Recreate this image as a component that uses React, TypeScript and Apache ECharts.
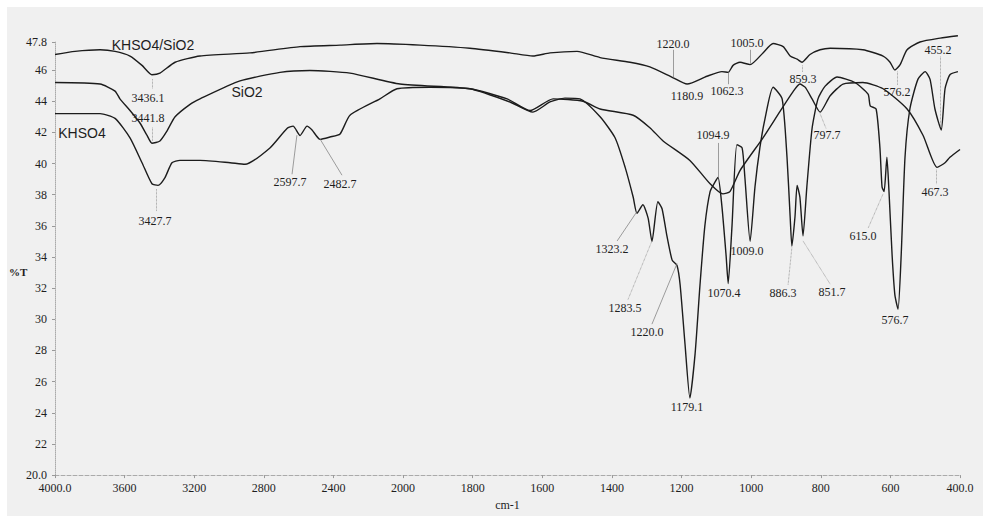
import React, { useEffect, useRef } from "react";
import * as echarts from "echarts";

// Wavenumber (cm-1) / %T readings
const KHSO4_SIO2: [number, number][] = [
  [4000, 47.0], [3885, 47.2], [3741, 47.3], [3655, 47.2], [3569, 46.9], [3500, 46.3],
  [3443, 45.7], [3397, 45.8], [3310, 46.5], [3167, 46.9], [2880, 47.1], [2592, 47.5],
  [2362, 47.6], [2150, 47.7], [1951, 47.6], [1808, 47.4], [1693, 47.1], [1627, 46.9],
  [1578, 47.1], [1500, 47.2], [1434, 46.8], [1348, 46.5], [1291, 46.2], [1224, 45.5],
  [1184, 45.1], [1127, 45.6], [1084, 45.9], [1066, 45.85], [1052, 46.3], [1032, 46.5],
  [1003, 46.35], [966, 47.1], [937, 47.7], [908, 47.5], [888, 46.9], [868, 46.7],
  [854, 46.5], [831, 47.0], [802, 47.3], [773, 47.4], [679, 47.3], [621, 46.9],
  [601, 46.5], [587, 46.0], [572, 46.35], [552, 47.3], [515, 47.8], [457, 48.05], [406, 48.2],
];

const SIO2: [number, number][] = [
  [4000, 45.2], [3741, 45.1], [3655, 44.65], [3627, 44.15], [3569, 43.4], [3512, 42.6],
  [3471, 41.8], [3443, 41.3], [3397, 41.45], [3356, 42.1], [3310, 43.0], [3224, 43.8],
  [3167, 44.15], [2937, 45.3], [2707, 45.85], [2535, 45.97], [2305, 45.8], [2018, 45.1],
  [1808, 44.8], [1701, 44.15], [1635, 43.4], [1569, 44.15], [1483, 44.0], [1434, 43.5],
  [1339, 43.1], [1291, 42.3], [1253, 41.45], [1176, 40.2], [1118, 38.7], [1081, 38.05],
  [1061, 38.2], [1032, 39.55], [966, 41.65], [917, 43.35], [880, 44.6], [860, 45.1],
  [845, 44.9], [825, 44.15], [802, 43.3], [773, 44.35], [736, 45.1], [679, 45.2],
  [621, 44.8], [552, 43.5], [506, 41.8], [466, 39.75], [443, 40.05], [429, 40.4], [400, 40.9],
];

const KHSO4: [number, number][] = [
  [4000, 43.2], [3741, 43.2], [3655, 42.9], [3569, 41.65], [3500, 40.05], [3443, 38.7],
  [3408, 38.6], [3368, 39.1], [3328, 40.05], [3282, 40.2], [3167, 40.2], [2994, 40.05],
  [2908, 39.95], [2765, 41.0], [2667, 42.25], [2632, 42.4], [2592, 41.8], [2552, 42.4],
  [2523, 42.15], [2477, 41.55], [2420, 41.7], [2362, 41.9], [2305, 43.1], [2133, 44.15],
  [2035, 44.8], [1923, 44.9], [1808, 44.8], [1693, 43.95], [1627, 43.3], [1578, 43.95],
  [1535, 44.2], [1492, 44.15], [1434, 43.0], [1391, 41.65], [1362, 39.75], [1339, 37.85],
  [1328, 36.8], [1311, 37.35], [1296, 36.5], [1285, 35.0], [1268, 37.55], [1256, 37.1],
  [1242, 35.35], [1227, 33.8], [1213, 33.45], [1204, 32.2], [1190, 28.4], [1176, 24.95],
  [1161, 27.8], [1147, 32.2], [1133, 36.0], [1118, 38.2], [1104, 38.8], [1095, 39.1],
  [1084, 37.25], [1072, 34.1], [1066, 32.3], [1055, 36.0], [1041, 41.2], [1026, 41.0],
  [1018, 39.1], [1003, 35.0], [989, 38.5], [975, 41.0], [960, 42.9], [937, 44.9],
  [911, 44.15], [897, 40.4], [888, 36.6], [883, 34.7], [874, 36.6], [868, 38.6],
  [860, 37.85], [851, 35.35], [840, 38.5], [825, 42.25], [808, 44.15], [788, 44.95],
  [753, 45.55], [702, 45.2], [664, 44.45], [658, 43.7], [641, 43.5], [630, 41.0],
  [624, 38.5], [618, 38.2], [610, 40.4], [604, 38.2], [595, 34.1], [587, 31.55],
  [578, 30.65], [569, 34.1], [558, 40.4], [544, 43.5], [521, 45.4], [500, 45.9],
  [486, 45.4], [472, 43.5], [454, 42.15], [443, 44.8], [429, 45.7], [406, 45.9],
];

const X_TICKS = [4000, 3600, 3200, 2800, 2400, 2000, 1800, 1600, 1400, 1200, 1000, 800, 600, 400];
const X_TICK_LABELS = ["4000.0", "3600", "3200", "2800", "2400", "2000", "1800", "1600", "1400", "1200", "1000", "800", "600", "400.0"];
const Y_MIN = 20;
const Y_MAX = 47.8;
const Y_STEP = 2;

// Peak labels: text, anchor [cm-1, %T]
const PEAK_LABELS: [string, number, number][] = [
  ["3436.1", 3466, 44.21], ["3441.8", 3466, 42.89], ["3427.7", 3425, 36.29],
  ["2597.7", 2650, 38.8], ["2482.7", 2362, 38.68], ["1323.2", 1400, 34.53],
  ["1283.5", 1362, 30.75], ["1220.0", 1299, 29.18], ["1179.1", 1184, 24.34],
  ["1070.4", 1078, 31.7], ["1009.0", 1012, 34.4], ["1094.9", 1110, 41.82],
  ["886.3", 908, 31.7], ["851.7", 768, 31.76], ["576.7", 587, 29.94],
  ["615.0", 679, 35.35], ["797.7", 782, 41.82], ["859.3", 851, 45.41],
  ["576.2", 581, 44.59], ["455.2", 463, 47.3], ["467.3", 472, 38.18],
  ["1220.0", 1224, 47.67], ["1180.9", 1184, 44.34], ["1062.3", 1069, 44.65],
  ["1005.0", 1012, 47.74],
];

// Leader lines: [cm-1 from, %T from, cm-1 to, %T to, dotted]
const LEADERS: [number, number, number, number, boolean][] = [
  [3443, 45.41, 3443, 44.78, true], [3443, 42.3, 3443, 41.45, true],
  [3420, 38.36, 3420, 36.92, true], [2610, 41.82, 2638, 39.31, false],
  [2477, 41.57, 2351, 39.25, false], [1328, 36.92, 1385, 35.03, false],
  [1285, 35.03, 1354, 31.26, true], [1213, 33.58, 1285, 29.69, false],
  [1095, 41.32, 1095, 39.12, false], [883, 34.6, 894, 32.2, true],
  [851, 35.03, 773, 32.26, true], [621, 38.05, 664, 35.85, true],
  [802, 43.2, 785, 42.26, true], [854, 46.29, 854, 45.85, true],
  [581, 45.9, 581, 45.03, true], [457, 46.86, 457, 42.4, true],
  [469, 39.6, 469, 38.68, true], [1224, 47.3, 1224, 45.53, false],
  [1066, 45.85, 1066, 45.09, false], [1003, 47.3, 1003, 46.41, false],
];

// Series name labels: text, [cm-1, %T]
const SERIES_NAMES: [string, number, number][] = [
  ["KHSO4/SiO2", 3437, 47.61],
  ["SiO2", 2897, 44.59],
  ["KHSO4", 3845, 41.95],
];

// piecewise IR axis: 4000-2000 compressed, 2000-400 expanded x2
const toP = (w: number) => (w >= 2000 ? 4000 - w : 2000 + 2 * (2000 - w));
const fromP = (p: number) => (p <= 2000 ? 4000 - p : 2000 - (p - 2000) / 2);

const SERIF = "'Liberation Serif', 'DejaVu Serif', serif";
const SANS = "'Liberation Sans', Arial, sans-serif";
const INK = "#1c1c1c";
const TEXT = "#1e1e1e";

export default function App() {
  const ref = useRef<HTMLDivElement>(null);
  useEffect(() => {
    document.body.style.margin = "0";
    if (!ref.current) return;
    const chart = echarts.init(ref.current, undefined, { renderer: "svg" });
    const conv = (arr: [number, number][]) => arr.map(([w, v]) => [toP(w), v]);
    const lineSeries = (name: string, data: [number, number][]) => ({
      name,
      type: "line",
      data: conv(data),
      showSymbol: false,
      smooth: 0.2,
      clip: false,
      lineStyle: { color: INK, width: 1.4 },
      silent: true,
    });
    chart.setOption({
      animation: false,
      backgroundColor: "#f0f0f0",
      grid: { left: 48, right: 23, top: 35, bottom: 32 },
      xAxis: {
        type: "value",
        min: 0,
        max: toP(400),
        interval: 400,
        axisLine: { show: true, lineStyle: { color: "#aaa", type: "dashed", width: 1 } },
        axisTick: { show: true, length: 3, lineStyle: { color: "#999" } },
        splitLine: { show: false },
        axisLabel: {
          margin: 7,
          fontFamily: SERIF,
          fontSize: 12,
          color: TEXT,
          formatter: (p: number) => {
            const w = fromP(p);
            const i = X_TICKS.indexOf(Math.round(w));
            return i >= 0 ? X_TICK_LABELS[i] : String(Math.round(w));
          },
        },
        name: "cm-1",
        nameLocation: "middle",
        nameGap: 19,
        nameTextStyle: { fontFamily: SERIF, fontSize: 12, color: TEXT },
      },
      yAxis: {
        type: "value",
        min: Y_MIN,
        max: Y_MAX,
        interval: Y_STEP,
        axisLine: { show: true, lineStyle: { color: "#aaa", type: "dotted", width: 1 } },
        axisTick: { show: true, length: 3, lineStyle: { color: "#999" } },
        splitLine: { show: false },
        axisLabel: {
          margin: 8,
          fontFamily: SERIF,
          fontSize: 12,
          color: TEXT,
          formatter: (v: number) => (v === Y_MIN || v === Y_MAX ? v.toFixed(1) : String(v)),
        },
      },
      series: [
        lineSeries("KHSO4/SiO2", KHSO4_SIO2),
        lineSeries("SiO2", SIO2),
        lineSeries("KHSO4", KHSO4),
        {
          name: "leaders",
          type: "line",
          data: [],
          silent: true,
          markLine: {
            silent: true,
            symbol: ["none", "none"],
            label: { show: false },
            lineStyle: { color: "#777", width: 0.7, type: "solid" },
            data: LEADERS.map(([w1, v1, w2, v2, dotted]) => [
              { coord: [toP(w1), v1], lineStyle: { type: dotted ? "dotted" : "solid", color: "#777", width: 0.7 } },
              { coord: [toP(w2), v2] },
            ]),
          },
        },
      ],
    });
    // place annotation texts through the axes' own scales
    const px = (w: number, v: number) =>
      chart.convertToPixel({ xAxisIndex: 0, yAxisIndex: 0 }, [toP(w), v]) as number[];
    const texts: any[] = [
      ...PEAK_LABELS.map(([t, w, v]) => {
        const [x, y] = px(w, v);
        return {
          type: "text",
          x: Math.round(x),
          y: Math.round(y),
          silent: true,
          style: { text: t, font: `12px ${SERIF}`, fill: TEXT, align: "center", verticalAlign: "middle" },
        };
      }),
      ...SERIES_NAMES.map(([t, w, v]) => {
        const [x, y] = px(w, v);
        return {
          type: "text",
          x: Math.round(x),
          y: Math.round(y),
          silent: true,
          style: { text: t, font: `14px ${SANS}`, fill: TEXT, align: "center", verticalAlign: "middle" },
        };
      }),
      {
        type: "text",
        left: 2,
        top: 259,
        silent: true,
        style: { text: "%T", font: `bold 11px ${SERIF}`, fill: TEXT },
      },
    ];
    chart.setOption({ graphic: texts });
    return () => chart.dispose();
  }, []);
  return (
    <div style={{ width: 983, height: 516, background: "#fff", position: "relative" }}>
      <div ref={ref} style={{ position: "absolute", left: 7, top: 7, width: 976, height: 509 }} />
    </div>
  );
}
